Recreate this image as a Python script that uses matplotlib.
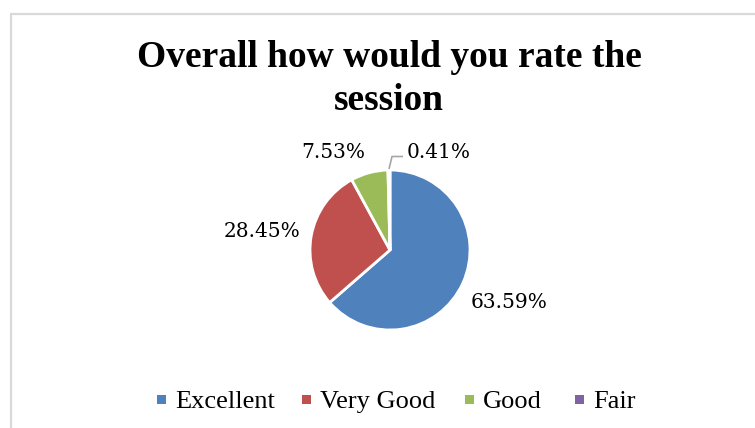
import numpy as np
import matplotlib
matplotlib.use("Agg")
import matplotlib.pyplot as plt
from matplotlib.patches import Rectangle

# chart data
categories = ["Excellent", "Very Good", "Good", "Fair"]
shares = [63.59, 28.45, 7.53, 0.41]
colors = ["#4F81BD", "#C0504D", "#9BBB59", "#8064A2"]
title_lines = ["Overall how would you rate the", "session"]

W, H = 755, 428
fig = plt.figure(figsize=(W / 100, H / 100), dpi=100)
ax = fig.add_axes([0, 0, 1, 1])

# chart area border (cropped on the right / bottom)
ax.add_patch(Rectangle((11, -10), W, H - 14 + 10, fill=False,
                       edgecolor="#D9D9D9", linewidth=1.6))

cx, cy, r = 390, H - 250, 80
wedges, _ = ax.pie(shares, colors=colors, startangle=90, counterclock=False,
                   center=(cx, cy), radius=r, frame=True,
                   wedgeprops=dict(edgecolor="white", linewidth=2))
ax.set_xlim(0, W)
ax.set_ylim(0, H)
ax.set_aspect("equal")
ax.axis("off")

# data labels (Excel best-fit placement)
label_pos = [(509, H - 302), (262, H - 231), (333, H - 152), (439, H - 152)]
for (x, y), v in zip(label_pos, shares):
    ax.text(x, y, f"{v:.2f}%", ha="center", va="center", fontsize=14.5,
            family="DejaVu Serif", color="#000000")

# leader line for the small slice
ax.plot([389, 392, 403], [H - 169, H - 156.5, H - 156.5], color="#A6A6A6",
        linewidth=1.2, solid_capstyle="butt")

for i, line in enumerate(title_lines):
    ax.text(389, H - 57 - 43 * i, line, ha="center", va="center",
            fontsize=27, fontweight="bold", family="Liberation Serif")

# legend, laid out like Excel's
leg_x = [157, 302, 465, 575]
for x, name, c in zip(leg_x, categories, colors):
    ax.add_patch(Rectangle((x, H - 404), 9, 9, facecolor=c, edgecolor="none"))
    ax.text(x + 18, H - 408, name, ha="left", va="baseline", fontsize=19,
            family="Liberation Serif")

fig.savefig("out.png", dpi=100)
